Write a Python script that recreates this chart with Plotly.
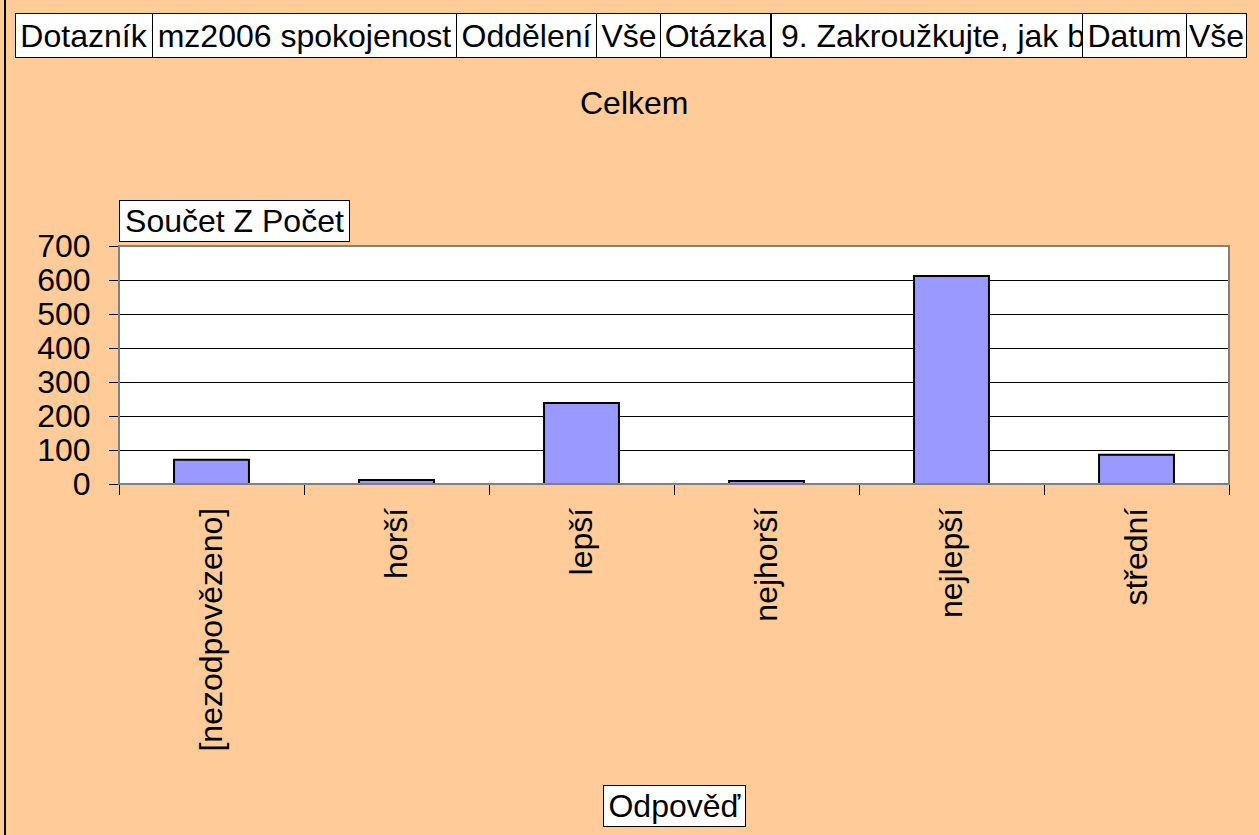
import plotly.graph_objects as go

categories = ["[nezodpovězeno]", "horší", "lepší", "nejhorší", "nejlepší", "střední"]
values = [71, 12, 238, 9, 612, 86]
y_ticks = [0, 100, 200, 300, 400, 500, 600, 700]

header_labels = ["Dotazník", "mz2006 spokojenost", "Oddělení", "Vše", "Otázka",
                 " 9. Zakroužkujte, jak b", "Datum", "Vše"]

W, H = 1259, 835
L, R, T, B = 119, 30, 246, 351
PW, PH = W - L - R, H - T - B
FONT = "Liberation Sans, Arial, sans-serif"
FS = 32

def px(x):
    return (x - L) / PW

def py(y):
    return (H - B - y) / PH

fig = go.Figure()
fig.add_trace(go.Bar(
    x=categories, y=values, width=0.405,
    marker=dict(color="#9999FF", line=dict(color="black", width=2)),
))

annotations = []

def box(text, x0, x1, y0, y1, align="center"):
    annotations.append(dict(
        text=text, xref="paper", yref="paper",
        x=px((x0 + x1) / 2), y=py((y0 + y1) / 2),
        xanchor="center", yanchor="middle",
        width=x1 - x0 - 1, height=y1 - y0 - 1, align=align, valign="middle",
        showarrow=False, bgcolor="white", bordercolor="black", borderwidth=1,
        borderpad=0, font=dict(family=FONT, size=FS, color="black"),
    ))

edges = [15, 152, 456, 596, 661, 771, 1082, 1186, 1246]
for i, lab in enumerate(header_labels):
    box(lab, edges[i], edges[i + 1], 13, 57, align="left" if i == 5 else "center")

box("Součet Z Počet", 119, 349, 200, 241)
box("Odpověď", 603, 745, 785, 826)

annotations.append(dict(
    text="Celkem", xref="paper", yref="paper", x=px(634), y=py(103),
    xanchor="center", yanchor="middle", showarrow=False,
    font=dict(family=FONT, size=FS, color="black"),
))

shapes = [
    dict(type="rect", xref="paper", yref="paper", x0=0, x1=1, y0=0, y1=1,
         line=dict(color="#808080", width=2), layer="above"),
    dict(type="line", xref="paper", yref="paper", x0=px(5), x1=px(5),
         y0=py(H), y1=py(0), line=dict(color="black", width=2)),
]

fig.update_layout(
    width=W, height=H,
    margin=dict(l=L, r=R, t=T, b=B),
    paper_bgcolor="#FFCC99", plot_bgcolor="white",
    showlegend=False, bargap=0.595,
    font=dict(family=FONT, size=FS, color="black"),
    annotations=annotations, shapes=shapes,
)
fig.update_xaxes(
    type="category", tickangle=-90, ticks="outside", ticklen=10, tickcolor="black",
    tickson="boundaries", showline=True, linecolor="black", linewidth=1,
    showgrid=False, tickfont=dict(family=FONT, size=FS, color="black"),
    ticklabelstandoff=10,
)
fig.update_yaxes(
    range=[0, 700], tickvals=y_ticks, ticktext=[str(v) for v in y_ticks],
    ticks="outside", ticklen=9, tickcolor="black",
    showline=True, linecolor="#808080", linewidth=1,
    showgrid=True, gridcolor="black", gridwidth=1, zeroline=False,
    tickfont=dict(family=FONT, size=FS, color="black"), ticklabelstandoff=12,
)

fig.write_html("out.html", config={"displayModeBar": False},
               post_script="document.body.style.margin='0';")
